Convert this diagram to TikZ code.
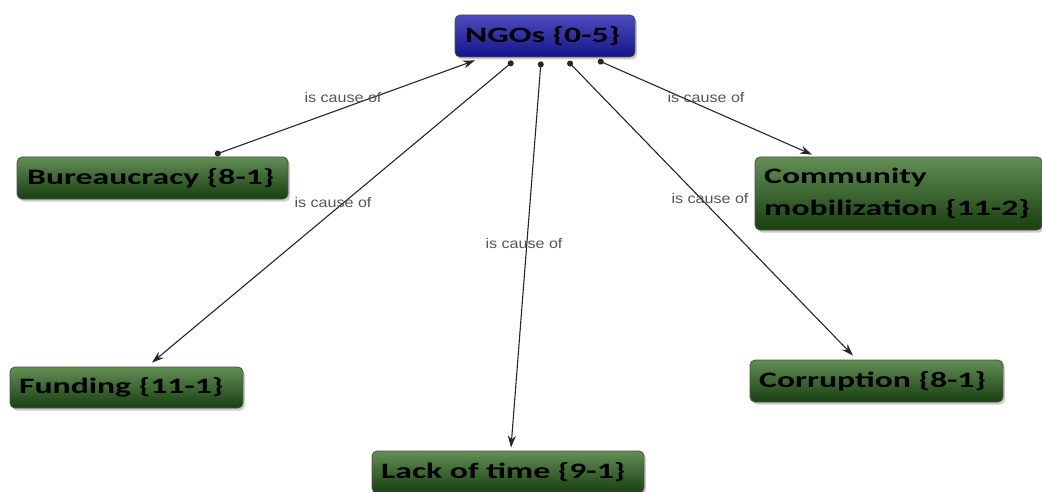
\documentclass[tikz,border=0pt]{standalone}
\usepackage{fontspec}
\setmainfont{Carlito}
\newfontfamily\labelfont{Liberation Sans}
\usetikzlibrary{arrows.meta,shadows,calc}
\definecolor{greentop}{HTML}{628E55}
\definecolor{greenmid}{HTML}{2F6226}
\definecolor{greenbot}{HTML}{183F10}
\definecolor{bluetop}{HTML}{4C4CBE}
\definecolor{bluemid}{HTML}{2626A4}
\definecolor{bluebot}{HTML}{15158A}
\definecolor{edgegray}{HTML}{505050}
\definecolor{labelgray}{HTML}{555555}
% wide bold box captions
\newcommand{\wide}[1]{\scalebox{1.53}[1]{#1}}
\newcommand{\widelabel}[1]{\scalebox{1.15}[1]{#1}}
\tikzset{
  concept/.style={draw=edgegray, line width=0.8pt, rounded corners=5pt,
    top color=greentop, middle color=greenmid, bottom color=greenbot,
    drop shadow={shadow xshift=2pt, shadow yshift=-2.5pt, opacity=0.4},
    inner sep=0pt},
  hub/.style={concept, top color=bluetop, middle color=bluemid, bottom color=bluebot},
  caption/.style={anchor=west, font=\fontsize{22}{24}\selectfont\bfseries,
    text=black, inner sep=0pt},
  link/.style={draw=black!85, line width=1.1pt,
    {Circle[length=6pt]}-{Stealth[length=12pt,width=8pt]}},
  linklabel/.style={font=\labelfont\fontsize{14}{15}\selectfont, text=labelgray,
    inner sep=1pt}
}
\begin{document}
\begin{tikzpicture}[x=1pt,y=-1pt]
  \useasboundingbox (0,0) rectangle (1042,492);
  \begin{scope}
    \clip (0,0) rectangle (1042,492);
    % concept boxes
    \node[hub, minimum width=180pt, minimum height=42pt] (ngo) at (545,36) {};
    \node[caption] (ngot) at (465,36) {\wide{NGOs \{0-5\}}};
    \node[concept, minimum width=271pt, minimum height=42pt] (bur) at (152.5,178) {};
    \node[caption] (burt) at (27,178) {\wide{Bureaucracy \{8-1\}}};
    \node[concept, minimum width=287pt, minimum height=73pt] (com) at (898.5,193.5) {};
    \node[caption] (comt1) at (764,178) {\wide{Community}};
    \node[caption] (comt2) at (764,209) {\wide{mobilization \{11-2\}}};
    \node[concept, minimum width=233pt, minimum height=41pt] (fun) at (126.5,387.5) {};
    \node[caption] (funt) at (19,387.5) {\wide{Funding \{11-1\}}};
    \node[concept, minimum width=253pt, minimum height=42pt] (cor) at (876.5,381) {};
    \node[caption] (cort) at (759,381) {\wide{Corruption \{8-1\}}};
    \node[concept, minimum width=272pt, minimum height=42pt] (lack) at (508,472) {};
    \node[caption] (lackt) at (381,472) {\wide{Lack of time \{9-1\}}};
    % attachment points on the box borders
    \coordinate (b0) at ($(bur.north)+(62.5,-2)$);
    \coordinate (b1) at ($(ngo.south)+(-70,3)$);
    \coordinate (f0) at ($(ngo.south)+(-32,4)$);
    \coordinate (f1) at ($(fun.north)+(25.5,-4)$);
    \coordinate (l0) at ($(ngo.south)+(-4,4)$);
    \coordinate (l1) at ($(lack.north)+(3,-3)$);
    \coordinate (c0) at ($(ngo.south)+(23,4)$);
    \coordinate (c1) at ($(cor.north)+(-23.5,-4)$);
    \coordinate (m0) at ($(ngo.south)+(53,3)$);
    \coordinate (m1) at ($(com.north)+(-86.5,-2)$);
    % relations
    \draw[link] (b0) -- (b1);
    \draw[link] (f0) -- (f1);
    \draw[link] (l0) -- (l1);
    \draw[link] (c0) -- (c1);
    \draw[link] (m0) -- (m1);
    % relation labels
    \node[linklabel] (lb) at (343,97) {\widelabel{is cause of}};
    \node[linklabel] (lf) at (333,202) {\widelabel{is cause of}};
    \node[linklabel] (ll) at (524,243) {\widelabel{is cause of}};
    \node[linklabel] (lc) at (710,198) {\widelabel{is cause of}};
    \node[linklabel] (lm) at (706,97) {\widelabel{is cause of}};
  \end{scope}
\end{tikzpicture}
\end{document}
